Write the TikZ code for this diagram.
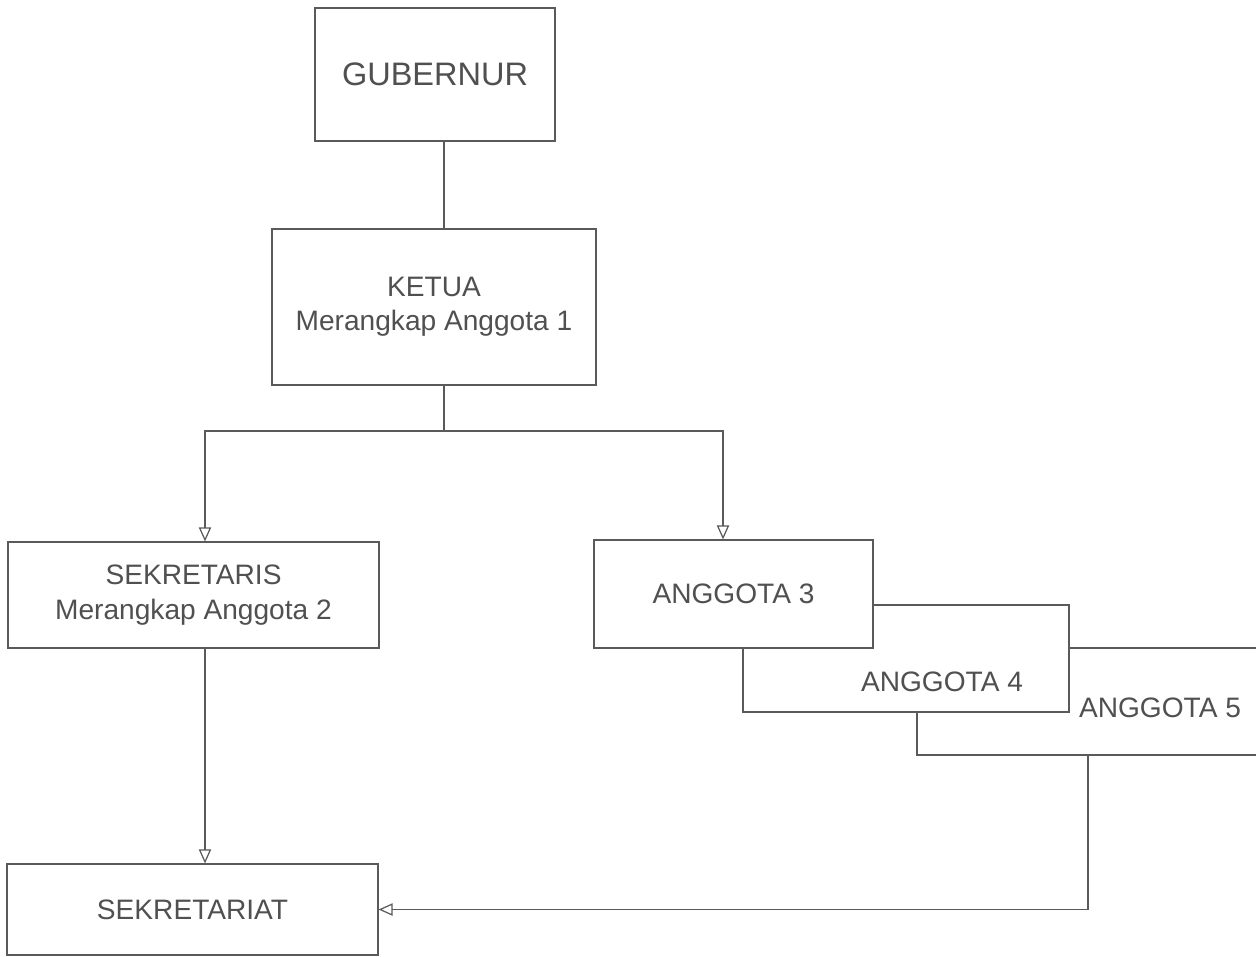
\documentclass[tikz,border=0pt]{standalone}
\usepackage{fontspec}
\setmainfont{Liberation Sans}
\usetikzlibrary{arrows.meta}
\definecolor{linegray}{HTML}{5A5A5A}
\definecolor{textgray}{HTML}{505050}
\tikzset{unit/.style={draw=linegray,line width=0.7pt,fill=white,inner sep=0pt,
    align=center,text=textgray,font=\fontsize{16}{19.5}\selectfont},
  lbl/.style={text=textgray,inner sep=0pt,font=\fontsize{16}{19.5}\selectfont},
  link/.style={draw=linegray,line width=0.7pt}}

\begin{document}
\begin{tikzpicture}[x=0.02cm,y=-0.02cm,>={Triangle[open,length=8pt,width=7pt]}]
  \clip (0,0) rectangle (1256,956);
  \fill[white] (0,0) rectangle (1256,956);

  \node[unit,minimum width=4.8cm,minimum height=2.66cm,font=\fontsize{18.5}{22}\selectfont] (gub) at (435,74.5) {GUBERNUR};
  \node[unit,minimum width=6.48cm,minimum height=3.12cm] (ketua) at (434,307) {\raisebox{-0.1cm}{KETUA}\\\raisebox{-0.1cm}{Merangkap Anggota 1}};
  \node[unit,minimum width=7.42cm,minimum height=2.12cm] (sek) at (193.5,595) {SEKRETARIS\\Merangkap Anggota 2};
  \node[unit,minimum width=7.42cm,minimum height=1.82cm] (sekt) at (192.5,909.5) {SEKRETARIAT};

  % anggota boxes, stacked behind each other
  \node[unit,minimum width=7.66cm,minimum height=2.14cm] (a5) at (1108.5,701.5) {};
  \node[lbl] (a5t) at (1160,708) {ANGGOTA 5};
  \node[unit,minimum width=6.52cm,minimum height=2.14cm] (a4) at (906,658.5) {};
  \node[lbl] (a4t) at (942,682) {ANGGOTA 4};
  \node[unit,minimum width=5.58cm,minimum height=2.16cm] (a3) at (733.5,594) {ANGGOTA 3};

  \coordinate (split) at (444,431);
  \coordinate (a5out) at (1088,755);

  \draw[link] (gub.south -| split) -- (ketua.north -| split);
  \draw[link] (split |- ketua.south) -- (split);
  \draw[link,->] (split) -| ([xshift=0.23cm]sek.north);
  \draw[link,->] (split) -| ([xshift=-0.21cm]a3.north);
  \draw[link,->] ([xshift=0.23cm]sek.south) -- ([xshift=0.25cm]sekt.north);
  \draw[link,->] (a5out) |- (sekt.east);
\end{tikzpicture}
\end{document}
